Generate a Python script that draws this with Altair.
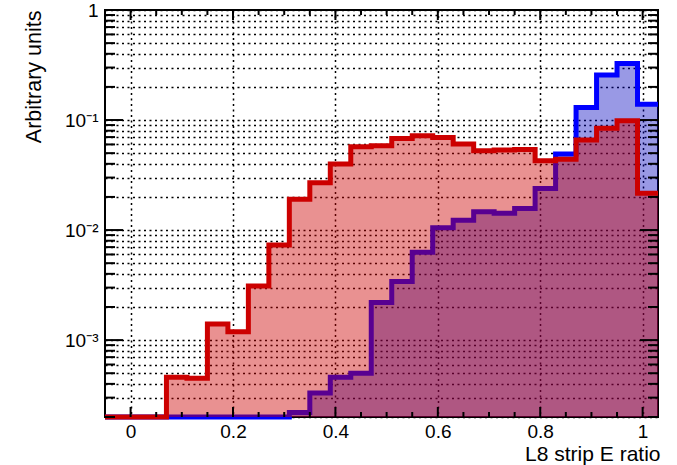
import altair as alt
import numpy as np
import pandas as pd

# Histogram range and binning
X_MIN, X_MAX = -0.05, 1.03
Y_MIN, Y_MAX = 2e-4, 1.0
N_BINS = 27

# Bin contents (arbitrary units); empty bins are 0 and sit on the frame floor
red_counts = [0, 0, 0, 4.6e-4, 4.5e-4, 1.40e-3, 1.19e-3, 3.1e-3, 7.3e-3,
              0.0191, 0.0269, 0.0398, 0.0573, 0.0584, 0.068, 0.0721, 0.0695,
              0.0605, 0.0526, 0.0534, 0.054, 0.0427, 0.0439, 0.0658, 0.084,
              0.0986, 0.0216]
blue_counts = [0, 0, 0, 0, 0, 0, 0, 0, 0,
               2.2e-4, 3.3e-4, 4.6e-4, 5.0e-4, 2.2e-3, 3.4e-3, 6.3e-3, 0.0105,
               0.0123, 0.0147, 0.0142, 0.0157, 0.0239, 0.0491, 0.130, 0.256,
               0.327, 0.139]

# Axis ticks
x_major = [0, 0.2, 0.4, 0.6, 0.8, 1.0]
x_minor = [0.05, 0.1, 0.15, 0.25, 0.3, 0.35, 0.45, 0.5, 0.55,
           0.65, 0.7, 0.75, 0.85, 0.9, 0.95]
y_major = [1e-3, 1e-2, 1e-1, 1.0]
y_minor = [m * d for d in (1e-4, 1e-3, 1e-2, 1e-1) for m in range(2, 10)
           if m * d >= Y_MIN]

W, H = 553, 407
FONT = "Liberation Sans"

bin_edges = np.round(np.linspace(X_MIN, X_MAX, N_BINS + 1), 3)
hist = pd.DataFrame({
    "edge": bin_edges,
    "red": red_counts + red_counts[-1:],
    "blue": blue_counts + blue_counts[-1:],
})

xs = alt.Scale(domain=[X_MIN, X_MAX], nice=False, zero=False)
ys = alt.Scale(type="log", domain=[Y_MIN, Y_MAX], nice=False)

x_axis = alt.Axis(
    values=x_major, format="~g", grid=True, gridColor="black",
    gridDash=[2, 3.5], gridWidth=1.5, ticks=False, domain=False,
    labelFont=FONT, labelFontSize=19, labelColor="black", labelPadding=5,
    labelFlush=False, labelOverlap=False,
    title="L8 strip E ratio", titleFont=FONT, titleFontSize=21,
    titleFontWeight="normal", titleColor="black", titleAlign="right",
    titleX=W + 2, titleY=43.5, titleBaseline="alphabetic",
)
y_axis = alt.Axis(
    values=sorted(y_minor + y_major), grid=True, gridColor="black",
    gridDash=[2, 3.5], gridWidth=1.5, ticks=False, domain=False,
    labelExpr=("datum.value == 1 ? '1' : datum.value == 0.1 ? '10⁻¹' : "
               "datum.value == 0.01 ? '10⁻²' : datum.value == 0.001 ? '10⁻³' : ''"),
    labelFont=FONT, labelFontSize=19, labelColor="black", labelPadding=7,
    labelFlush=False, labelOverlap=False,
    title="Arbitrary units", titleFont=FONT, titleFontSize=21.5,
    titleFontWeight="normal", titleColor="black", titleAngle=-90,
    titleAlign="right", titleX=-65, titleY=0, titleBaseline="alphabetic",
)


def X(field):
    return alt.X(field, scale=xs, axis=x_axis)


def Y(field):
    return alt.Y(field, scale=ys, axis=y_axis)


base = alt.Chart(hist).transform_calculate(
    r=f"max(datum.red, {Y_MIN})",
    b=f"max(datum.blue, {Y_MIN})",
    floor=f"{Y_MIN}",
)

blue_area = base.mark_area(interpolate="step-after", color="#0000bf", opacity=0.4).encode(
    x=X("edge:Q"), y=Y("b:Q"), y2="floor:Q",
)
blue_line = base.mark_line(interpolate="step-after", color="#0000ff",
                           strokeWidth=5, strokeJoin="miter").encode(
    x=X("edge:Q"), y=Y("b:Q"),
)
red_area = base.mark_area(interpolate="step-after", color="#cc0000", opacity=0.43).encode(
    x=X("edge:Q"), y=Y("r:Q"), y2="floor:Q",
)
red_line = base.mark_line(interpolate="step-after", color="#cc0000",
                          strokeWidth=5, strokeJoin="miter").encode(
    x=X("edge:Q"), y=Y("r:Q"),
)


def x_ticks(values, length):
    df = pd.DataFrame({"pos": values})
    c = alt.Chart(df).mark_rule(color="black", strokeWidth=2)
    bottom = c.encode(x=X("pos:Q"), y=alt.value(H), y2=alt.value(H - length))
    top = c.encode(x=X("pos:Q"), y=alt.value(0), y2=alt.value(length))
    return [bottom, top]


def y_ticks(values, length):
    df = pd.DataFrame({"pos": values})
    c = alt.Chart(df).mark_rule(color="black", strokeWidth=2)
    left = c.encode(y=Y("pos:Q"), x=alt.value(0), x2=alt.value(length))
    right = c.encode(y=Y("pos:Q"), x=alt.value(W), x2=alt.value(W - length))
    return [left, right]


tick_layers = (x_ticks(x_major, 10) + x_ticks(x_minor, 5)
               + y_ticks(y_major, 18) + y_ticks(y_minor, 10))

chart = alt.layer(blue_area, blue_line, red_area, red_line, *tick_layers).properties(
    width=W, height=H,
    autosize=alt.AutoSizeParams(type="none"),
    padding={"left": 105, "top": 10, "right": 19, "bottom": 48},
    background="white",
).configure_view(stroke="black", strokeWidth=2)

chart.save("out.html", embed_options={"renderer": "svg", "actions": False})
